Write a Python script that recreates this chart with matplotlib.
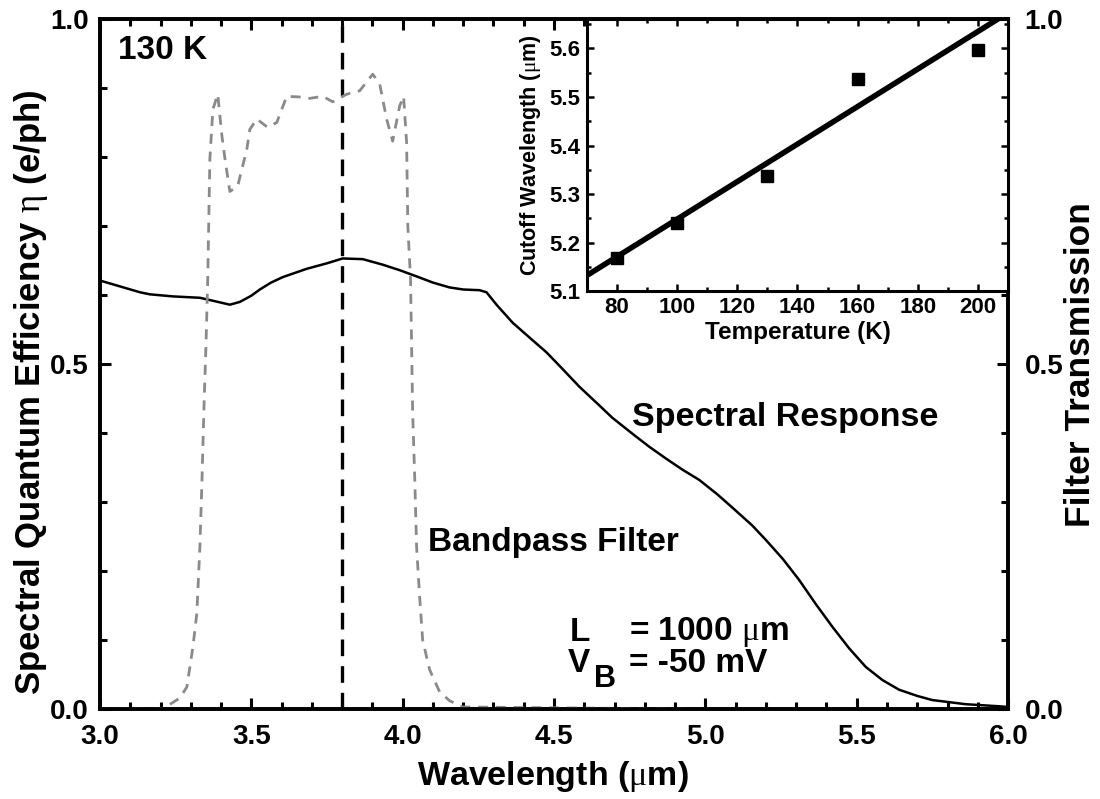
import matplotlib
matplotlib.use('Agg')
import matplotlib.pyplot as plt
from matplotlib.ticker import MultipleLocator

plt.rcParams['font.family'] = ['Liberation Sans', 'DejaVu Sans']
plt.rcParams['font.weight'] = 'bold'
plt.rcParams['axes.labelweight'] = 'bold'
plt.rcParams['mathtext.fontset'] = 'custom'
plt.rcParams['mathtext.rm'] = 'Liberation Serif:regular'
plt.rcParams['mathtext.it'] = 'Liberation Serif:italic:regular'
plt.rcParams['mathtext.bf'] = 'Liberation Sans:bold'

# ---- spectral response (left axis) ----
resp_wl = [3.00, 3.132, 3.165, 3.241, 3.33, 3.38, 3.429, 3.462, 3.50, 3.528,
           3.565, 3.604, 3.683, 3.75, 3.802, 3.868, 3.934, 3.99, 4.046, 4.10,
           4.155, 4.20, 4.254, 4.277, 4.31, 4.363, 4.42, 4.475, 4.53, 4.584,
           4.64, 4.693, 4.759, 4.815, 4.87, 4.924, 4.98, 5.04, 5.089, 5.155,
           5.20, 5.255, 5.31, 5.365, 5.42, 5.475, 5.53, 5.585, 5.64, 5.70,
           5.75, 5.86, 5.97, 6.00]
resp_eta = [0.621, 0.604, 0.601, 0.598, 0.596, 0.591, 0.586, 0.590, 0.599, 0.608,
            0.618, 0.626, 0.638, 0.646, 0.653, 0.652, 0.644, 0.636, 0.627, 0.618,
            0.611, 0.608, 0.607, 0.604, 0.586, 0.560, 0.538, 0.517, 0.492, 0.467,
            0.444, 0.422, 0.399, 0.380, 0.363, 0.347, 0.332, 0.311, 0.292, 0.266,
            0.245, 0.218, 0.187, 0.152, 0.119, 0.088, 0.061, 0.042, 0.028, 0.019,
            0.013, 0.007, 0.004, 0.003]

# ---- bandpass filter transmission (right axis) ----
filt_wl = [3.00, 3.20, 3.221, 3.264, 3.287, 3.307, 3.320, 3.330, 3.337, 3.343,
           3.350, 3.356, 3.363, 3.373, 3.389, 3.403, 3.413, 3.429, 3.455, 3.485,
           3.495, 3.518, 3.554, 3.584, 3.617, 3.660, 3.693, 3.736, 3.769, 3.815,
           3.858, 3.901, 3.924, 3.947, 3.967, 3.990, 4.003, 4.013, 4.017, 4.026,
           4.033, 4.040, 4.046, 4.056, 4.066, 4.089, 4.122, 4.155, 4.198, 4.95]
filt_T = [0.0, 0.0, 0.004, 0.016, 0.032, 0.090, 0.139, 0.235, 0.332, 0.430,
          0.525, 0.623, 0.797, 0.869, 0.891, 0.830, 0.797, 0.750, 0.758, 0.811,
          0.840, 0.855, 0.843, 0.850, 0.888, 0.887, 0.885, 0.888, 0.880, 0.891,
          0.896, 0.920, 0.906, 0.855, 0.823, 0.874, 0.888, 0.821, 0.700, 0.623,
          0.430, 0.332, 0.235, 0.163, 0.100, 0.057, 0.025, 0.012, 0.003, 0.0]

marker_wl = 3.8

# ---- inset: cutoff wavelength vs temperature ----
temp_K = [80, 100, 130, 160, 200]
cutoff_um = [5.169, 5.240, 5.337, 5.536, 5.597]
fit_T = [70, 210]
fit_cutoff = [5.133, 5.673]

x_ticks = [3.0, 3.5, 4.0, 4.5, 5.0, 5.5, 6.0]
y_ticks = [0.0, 0.5, 1.0]
inset_x_ticks = [80, 100, 120, 140, 160, 180, 200]
inset_y_ticks = [5.1, 5.2, 5.3, 5.4, 5.5, 5.6]

fig = plt.figure(figsize=(11, 7.99), dpi=100)
ax = fig.add_axes([0.0909, 0.1126, 0.8255, 0.8636])
ax2 = ax.twinx()

ax.plot(resp_wl, resp_eta, color='black', lw=1.8, zorder=3)
ax.plot([marker_wl, marker_wl], [0, 1], color='black', lw=2.4,
        dashes=(5, 3), zorder=2)
ax2.plot(filt_wl, filt_T, color='#8a8a8a', lw=2.0, dashes=(3.6, 2.8))

ax.set_xlim(3.0, 6.0)
ax.set_ylim(0.0, 1.0)
ax2.set_ylim(0.0, 1.0)
ax.set_xticks(x_ticks)
ax.set_xticklabels([f'{v:.1f}' for v in x_ticks])
ax.set_yticks(y_ticks)
ax.set_yticklabels([f'{v:.1f}' for v in y_ticks])
ax2.set_yticks(y_ticks)
ax2.set_yticklabels([f'{v:.1f}' for v in y_ticks])
ax.xaxis.set_minor_locator(MultipleLocator(0.1))
ax.yaxis.set_minor_locator(MultipleLocator(0.1))
ax2.yaxis.set_minor_locator(MultipleLocator(0.1))

for a in (ax, ax2):
    for s in a.spines.values():
        s.set_linewidth(2.6)
ax.tick_params(which='both', direction='in', top=True, right=False,
               width=2.2, labelsize=20)
ax.tick_params(which='major', length=8)
ax.tick_params(which='minor', length=5)
ax.tick_params(axis='x', pad=11)
ax.tick_params(axis='y', pad=8)
ax2.tick_params(which='both', direction='in', width=2.2, labelsize=20, pad=12)
ax2.tick_params(which='major', length=8)
ax2.tick_params(which='minor', length=5)

# axis titles
fig.text(553 / 1100, 1 - 776 / 799, r'Wavelength ($\mathrm{\mu}$m)',
         fontsize=24.5, ha='center', va='center')
fig.text(31 / 1100, 1 - 392 / 799,
         r'Spectral Quantum Efficiency $\mathrm{\eta}$ (e/ph)',
         fontsize=25, ha='center', va='center', rotation=90)
fig.text(1081 / 1100, 1 - 365 / 799, 'Filter Transmission',
         fontsize=25.5, ha='center', va='center', rotation=90)

ax.text(3.06, 0.955, '130 K', fontsize=24, va='center', ha='left')
ax.text(4.756, 0.422, 'Spectral Response', fontsize=24.5, va='center', ha='left')
ax.text(4.083, 0.241, 'Bandpass Filter', fontsize=24, va='center', ha='left')
ax.text(4.552, 0.111, 'L', fontsize=24, va='center', ha='left')
ax.text(4.748, 0.111, r'= 1000 $\mathrm{\mu}$m', fontsize=24, va='center', ha='left')
ax.text(4.545, 0.066, 'V', fontsize=24, va='center', ha='left')
ax.text(4.632, 0.044, 'B', fontsize=22, va='center', ha='left')
ax.text(4.748, 0.066, '= -50 mV', fontsize=24, va='center', ha='left')

# inset
ins = fig.add_axes([0.5336, 0.6352, 0.3828, 0.3410])
ins.set_zorder(5)
ins.plot(fit_T, fit_cutoff, color='black', lw=4)
ins.plot(temp_K, cutoff_um, 's', color='black', markersize=8)
ins.set_xlim(70, 210)
ins.set_ylim(5.1, 5.66)
ins.set_xticks(inset_x_ticks)
ins.set_yticks(inset_y_ticks)
ins.set_yticklabels([f'{v:.1f}' for v in inset_y_ticks])
ins.xaxis.set_minor_locator(MultipleLocator(10))
ins.yaxis.set_minor_locator(MultipleLocator(0.05))
for s in ins.spines.values():
    s.set_linewidth(2.2)
ins.tick_params(which='both', direction='in', top=True, right=True,
                width=1.8, labelsize=16)
ins.tick_params(which='major', length=5)
ins.tick_params(which='minor', length=3)
ins.tick_params(axis='x', pad=4)
ins.tick_params(axis='y', pad=5)
ins.set_xlabel('Temperature (K)', fontsize=17.5, labelpad=2)
ins.set_ylabel(r'Cutoff Wavelength ($\mathrm{\mu}$m)', fontsize=15.5, labelpad=4)

fig.savefig('out.png', dpi=100)
